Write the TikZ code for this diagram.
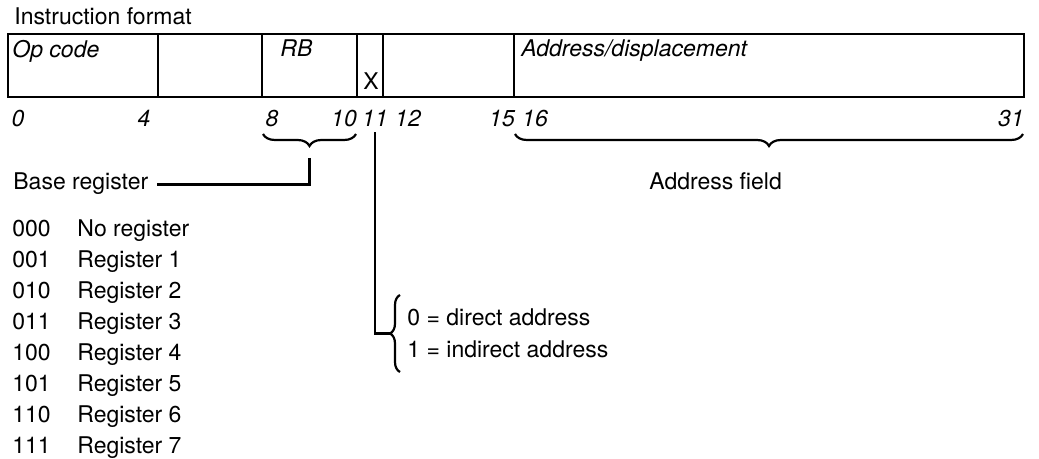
\documentclass[tikz,border=0pt]{standalone}
\usepackage{fontspec}
\setmainfont{TeX Gyre Heros}
\usetikzlibrary{decorations.pathreplacing}

\begin{document}
\begin{tikzpicture}[x=0.5pt, y=-0.5pt,
  font=\fontsize{11.5}{13}\selectfont,
  txt/.style={anchor=base west, inner sep=0pt},
  fieldname/.style={txt, font=\fontsize{11.5}{13}\selectfont\itshape},
  bitno/.style={anchor=base, inner sep=0pt, font=\fontsize{11.5}{13}\selectfont\itshape},
  frame/.style={line width=0.8pt},
  lead/.style={line width=1.4pt},
  brc/.style={line width=1.1pt, decorate, decoration={brace, amplitude=6pt}}]
 \useasboundingbox (0,0) rectangle (1039,459);

 % Title
 \node[txt] (title) at (14,25) {Instruction format};

 % Word frame and field borders
 \draw[frame] (8,34) rectangle (1024,97);
 \foreach \x in {158,262,357,383,514}
   \draw[frame] (\x,34) -- (\x,97);

 % Field names
 \node[fieldname] (op)   at (12,58)  {Op code};
 \node[fieldname] (rb)   at (280,57) {RB};
 \node[txt]       (x)    at (363,90) {X};
 \node[fieldname] (addr) at (521,57) {Address/displacement};

 % Bit numbers
 \foreach \n/\x in {0/18, 4/144, 8/272, 10/344, 11/375, 12/408, 15/502, 16/535, 31/1011}
   \node[bitno] (b\n) at (\x,127) {\n};

 % Braces under the fields
 \draw[brc, decoration={mirror}] (263,134) -- (356,134);
 \draw[brc, decoration={mirror}] (515,134) -- (1023,134);
 \coordinate (rbtip) at (309.5,158);

 % Base register and its codes
 \node[txt] (base)   at (13,190)  {Base register};
 \node[txt] (afield) at (649,190) {Address field};
 \foreach \c/\r [count=\i from 0] in {000/No register, 001/Register 1, 010/Register 2,
     011/Register 3, 100/Register 4, 101/Register 5, 110/Register 6, 111/Register 7} {
   \node[txt] (code\i) at (12,{237+31*\i}) {\c};
   \node[txt] (reg\i)  at (77,{237+31*\i}) {\r};
 }

 % Indirect bit
 \node[txt] (dir) at (407,326) {0 = direct address};
 \node[txt] (ind) at (407,358) {1 = indirect address};
 \draw[brc, decoration={amplitude=5pt}] (400,372) -- (400,295);
 \coordinate (seltip) at (390,333.5);

 % Connections
 \draw[lead] (rbtip) |- ([xshift=4pt]base.east);
 \draw[lead] ([yshift=-2.5pt]b11.south) |- (seltip);
\end{tikzpicture}
\end{document}
